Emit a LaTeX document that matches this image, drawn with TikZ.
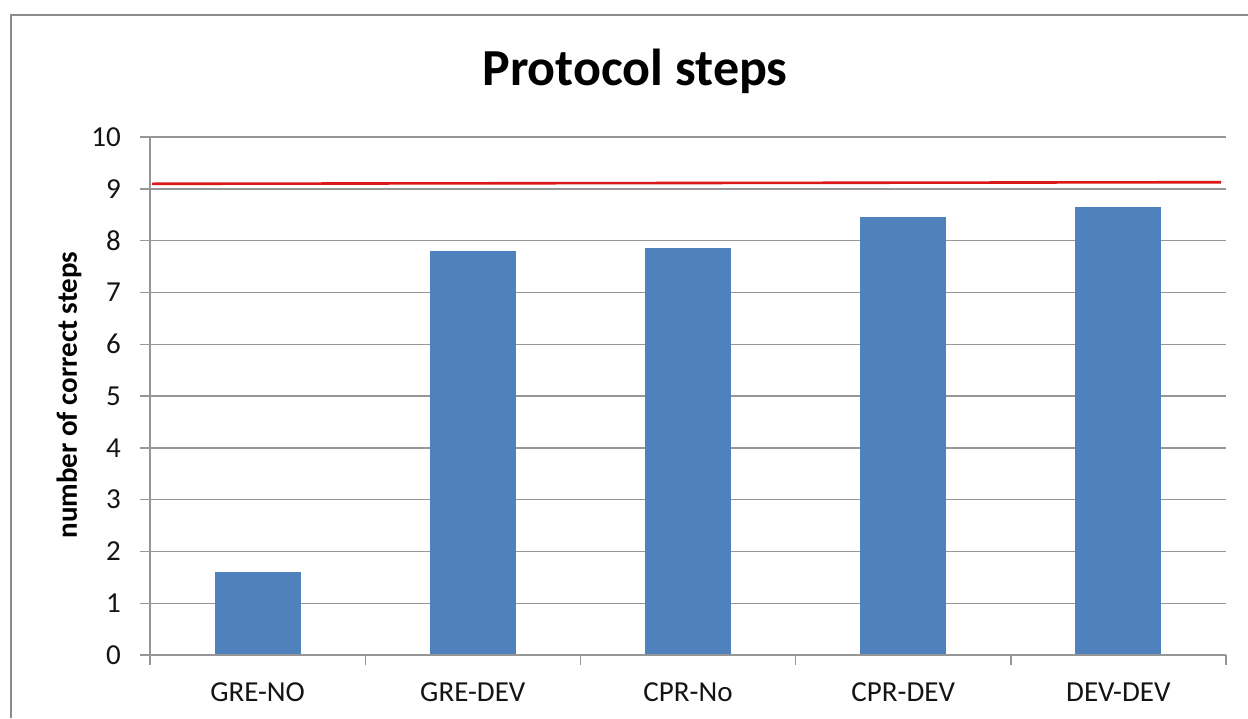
\documentclass[tikz,border=0pt]{standalone}
\usepackage{fontspec}
\setmainfont{Carlito}
\definecolor{gridgray}{RGB}{150,150,150}
\definecolor{framegray}{RGB}{140,140,140}
\definecolor{barblue}{RGB}{79,129,189}
\definecolor{redline}{RGB}{218,24,24}
\definecolor{txt}{RGB}{20,20,20}
\begin{document}
\begin{tikzpicture}[x=1pt,y=-1pt,
  gridline/.style={draw=gridgray, line width=1.4pt},
  axisline/.style={draw=gridgray, line width=1.4pt},
  bar/.style={fill=barblue},
  ticklabel/.style={anchor=east, inner sep=0pt, font=\fontsize{29}{32}\selectfont, text=txt},
  catlabel/.style={anchor=center, inner sep=0pt, font=\fontsize{29}{32}\selectfont, text=txt},
  titlelabel/.style={anchor=center, inner sep=0pt, font=\fontsize{52}{56}\selectfont\bfseries, text=black},
  axlabel/.style={anchor=center, inner sep=0pt, rotate=90, font=\fontsize{29}{32}\selectfont\bfseries, text=black}]
\useasboundingbox (0,0) rectangle (1248,718);
\fill[white] (0,0) rectangle (1248,718);
% frame (open at right and bottom)
\draw[draw=framegray, line width=2.5pt] (11,718) -- (11,15) -- (1248,15);
% gridlines and y tick labels
\foreach \v in {0,...,10}{
  \pgfmathsetmacro{\yy}{655-51.8*\v}
  \draw[gridline] (140,\yy) -- (1226,\yy);
  \node[ticklabel] (t\v) at (121,\yy) {\v};
}
% red reference line
\draw[draw=redline, line width=2.6pt] (152,183.8) -- (1221,182.2);
% bars
\foreach \i/\val in {0/1.6,1/7.8,2/7.86,3/8.46,4/8.65}{
  \pgfmathsetmacro{\cx}{150+215.2*(\i+0.5)}
  \pgfmathsetmacro{\top}{655-51.8*\val}
  \fill[bar] (\cx-43,655) rectangle (\cx+43,\top);
}
% axes
\draw[axisline] (150,137) -- (150,665);
\draw[axisline] (140,655) -- (1226,655);
\foreach \i in {0,...,5}{
  \pgfmathsetmacro{\tx}{150+215.2*\i}
  \draw[axisline] (\tx,655) -- (\tx,665);
}
% category labels
\node[catlabel] (c1) at (257.6,692) {GRE-NO};
\node[catlabel] (c2) at (472.8,692) {GRE-DEV};
\node[catlabel] (c3) at (688.0,692) {CPR-No};
\node[catlabel] (c4) at (903.2,692) {CPR-DEV};
\node[catlabel] (c5) at (1118.4,692) {DEV-DEV};
% title and axis label
\node[titlelabel] (title) at (635,71) {Protocol steps};
\node[axlabel] (ylab) at (69,395) {number of correct steps};
\end{tikzpicture}
\end{document}
